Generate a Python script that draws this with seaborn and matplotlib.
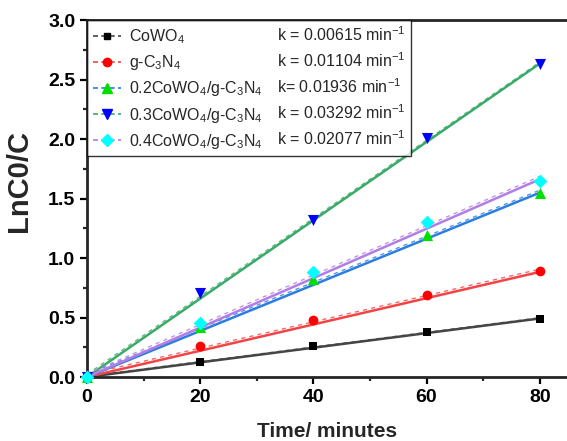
import numpy as np
import pandas as pd
import matplotlib
matplotlib.use('Agg')
import matplotlib.pyplot as plt
from matplotlib.lines import Line2D
import seaborn as sns

# data
time = [0, 20, 40, 60, 80]
cowo4 = [0.0, 0.13, 0.26, 0.38, 0.49]
gcn = [0.0, 0.26, 0.48, 0.69, 0.89]
c02 = [0.0, 0.42, 0.82, 1.19, 1.55]
c03 = [0.0, 0.71, 1.32, 2.01, 2.63]
c04 = [0.0, 0.45, 0.88, 1.30, 1.65]

names = ['CoWO$_4$', 'g-C$_3$N$_4$', '0.2CoWO$_4$/g-C$_3$N$_4$',
         '0.3CoWO$_4$/g-C$_3$N$_4$', '0.4CoWO$_4$/g-C$_3$N$_4$']
k_labels = ['k = 0.00615 min$^{-1}$', 'k = 0.01104 min$^{-1}$', 'k= 0.01936 min$^{-1}$',
            'k = 0.03292 min$^{-1}$', 'k = 0.02077 min$^{-1}$']
k_values = [0.00615, 0.01104, 0.01936, 0.03292, 0.02077]

line_colors = ['#454545', '#f24444', '#2b7de0', '#3aaa68', '#b27de4']
marker_colors = ['#000000', '#ff0000', '#00e000', '#0000ff', '#00ffff']
markers = ['s', 'o', '^', 'v', 'D']
msizes = [6, 7, 8, 8, 7]

series = [cowo4, gcn, c02, c03, c04]
df = pd.DataFrame({'time': time * 5,
                   'value': sum(series, []),
                   'sample': np.repeat(range(5), 5)})

sns.set_style('ticks')
plt.rcParams['font.family'] = ['Liberation Sans', 'DejaVu Sans']
plt.rcParams['mathtext.fontset'] = 'custom'
plt.rcParams['mathtext.rm'] = 'Liberation Sans'
plt.rcParams['mathtext.it'] = 'Liberation Sans:italic'
plt.rcParams['mathtext.bf'] = 'Liberation Sans:bold'

fig = plt.figure(figsize=(5.67, 4.41), dpi=100)
ax = fig.add_axes([0.1534, 0.1451, 0.8484, 0.8095])

fit_t = np.array([0, 80])
handles = []
for i in range(5):
    sub = df[df['sample'] == i]
    # first-order fit through origin (solid)
    ax.plot(fit_t, k_values[i] * fit_t, color=line_colors[i], lw=1.8, zorder=2)
    # free linear fit (dashed)
    slope, icpt = np.polyfit(sub['time'], sub['value'], 1)
    ax.plot(fit_t, slope * fit_t + icpt, color=line_colors[i], alpha=0.8,
            linestyle=(0, (3, 3)), lw=1.0, zorder=2)
    sns.scatterplot(data=sub, x='time', y='value', ax=ax, color=marker_colors[i],
                    marker=markers[i], s=msizes[i] ** 2, edgecolor=marker_colors[i],
                    linewidth=0, zorder=3, legend=False, clip_on=False)
    handles.append(Line2D([], [], color=line_colors[i], linestyle=(0, (3, 2)), lw=1.2,
                          marker=markers[i], markersize=msizes[i] - 1,
                          markerfacecolor=marker_colors[i], markeredgecolor=marker_colors[i]))

blank = [Line2D([], [], linestyle='none') for _ in range(5)]
leg = ax.legend(handles + blank, names + k_labels, ncol=2, loc='upper left',
                bbox_to_anchor=(0, 1), borderaxespad=0, fontsize=11.5,
                handlelength=1.8, handletextpad=0.5, columnspacing=-1.45,
                labelspacing=0.45, borderpad=0.35, frameon=True, fancybox=False,
                edgecolor='black')
leg.get_frame().set_linewidth(1.0)

ax.set_xlim(0, 85)
ax.set_ylim(0, 3.0)
ax.set_xticks([0, 20, 40, 60, 80])
ax.set_xticks([10, 30, 50, 70], minor=True)
ax.set_yticks(np.arange(0, 3.01, 0.5))
ax.set_yticks(np.arange(0.25, 3.0, 0.5), minor=True)
ax.set_yticklabels([f'{v:.1f}' for v in np.arange(0, 3.01, 0.5)])

ax.set_xlabel('Time/ minutes', fontsize=15, fontweight='bold', labelpad=12)
ax.set_ylabel('LnC0/C', fontsize=21, fontweight='bold')
ax.yaxis.set_label_coords(-0.112, 0.55)
for lab in ax.get_xticklabels() + ax.get_yticklabels():
    lab.set_fontweight('bold')
ax.tick_params(axis='both', which='major', direction='out', length=5, width=1.6,
               labelsize=14, colors='black')
ax.tick_params(axis='both', which='minor', direction='out', length=3, width=1.6)
for side in ['left', 'bottom', 'top']:
    ax.spines[side].set_linewidth(2.0)
ax.spines['right'].set_visible(False)

fig.savefig('out.png', dpi=100)
